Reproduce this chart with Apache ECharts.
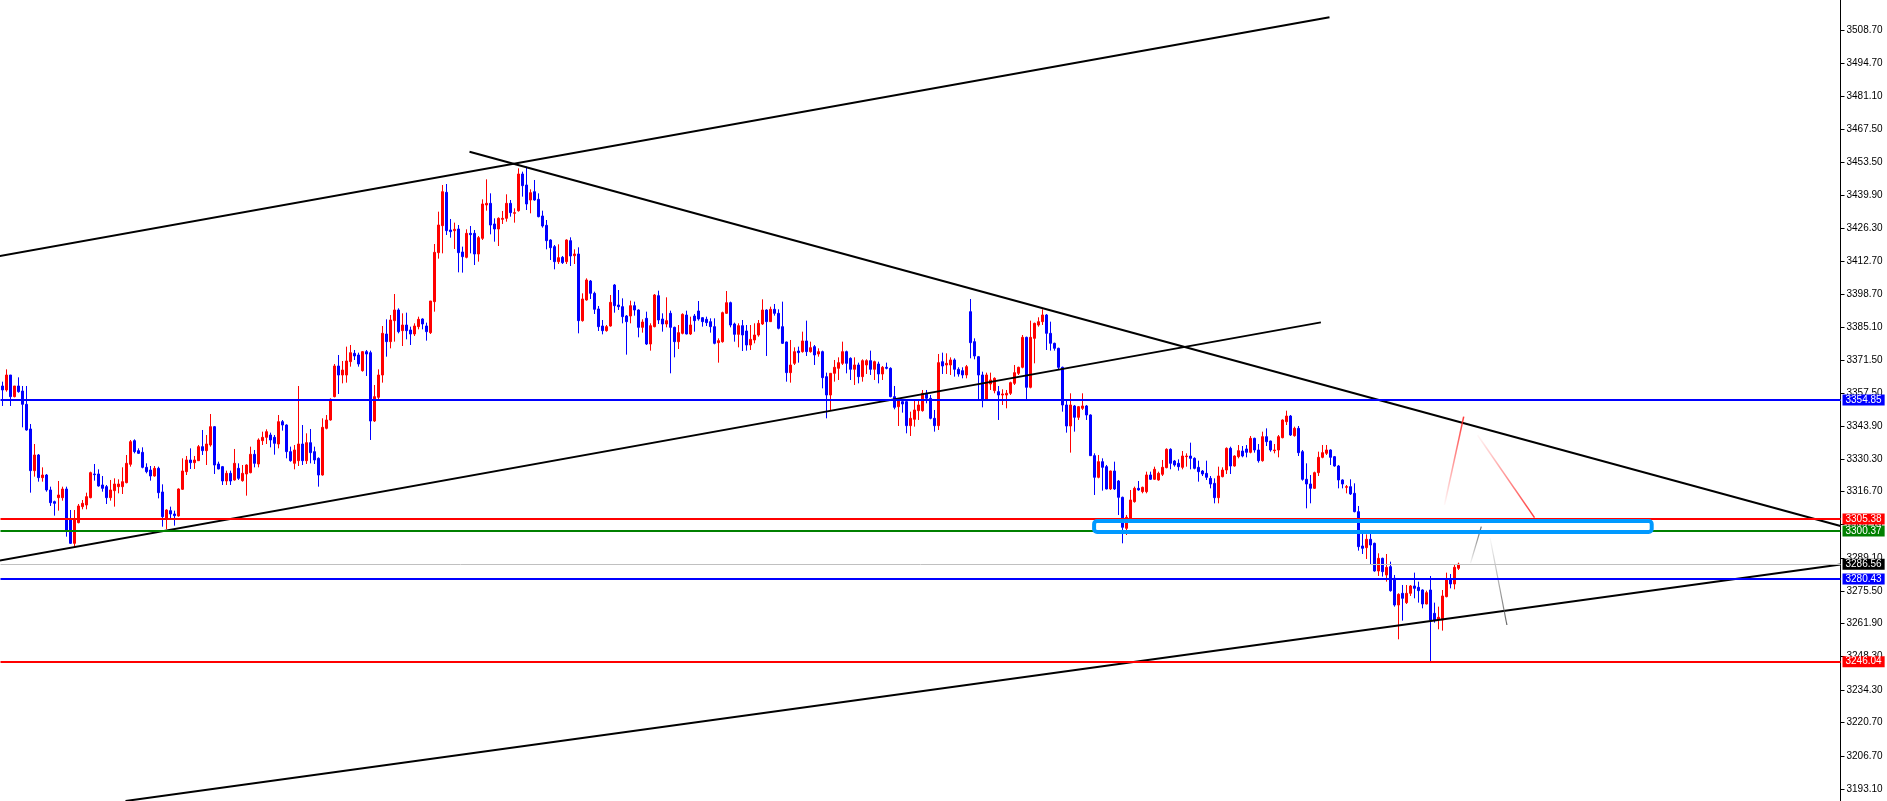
<!DOCTYPE html>
<html><head><meta charset="utf-8">
<script src="https://cdn.jsdelivr.net/npm/echarts@6/dist/echarts.min.js"></script>
<style>html,body{margin:0;padding:0;background:#fff;overflow:hidden}#c{width:1887px;height:801px}</style>
</head><body><div id="c"></div>
<script>
// ---- candle data (index 0 = leftmost bar) ----
const opens = [
3360.67,3359.01,3365.24,3356.24,3360.67,3358.59,3353.05,3342.79,3325.47,3331.98,
3322.56,3323.66,3317.43,3312.58,3314.24,3314.24,3317.84,3304.95,3295.25,3303.85,
3310.50,3311.19,3314.24,3324.08,3324.08,3319.51,3318.81,3314.24,3317.15,3318.81,
3318.81,3320.48,3328.10,3337.94,3333.78,3333.09,3326.85,3325.74,3323.25,3326.44,
3316.60,3305.23,3308.83,3307.45,3306.62,3317.71,3325.05,3329.90,3328.79,3329.62,
3335.45,3333.78,3336.14,3343.76,3328.24,3327.13,3321.17,3324.36,3321.59,3326.44,
3321.31,3324.08,3324.64,3332.26,3328.24,3337.94,3339.33,3340.30,3339.33,3336.55,
3345.84,3344.45,3333.37,3328.52,3329.62,3336.55,3329.62,3337.11,3333.37,3330.59,
3323.66,3343.07,3346.53,3356.24,3368.99,3365.24,3365.24,3370.79,3374.25,3373.56,
3367.05,3374.95,3374.53,3346.12,3355.96,3365.24,3382.29,3379.11,3387.84,3392.27,
3383.68,3386.03,3383.96,3382.29,3385.34,3388.53,3385.62,3382.85,3395.74,3416.11,
3427.34,3441.20,3425.54,3425.26,3425.95,3416.39,3414.17,3424.15,3424.15,3415.56,
3422.07,3435.93,3436.62,3428.03,3425.95,3429.97,3430.39,3436.62,3432.47,3433.57,
3448.82,3444.25,3438.01,3441.47,3438.29,3431.36,3427.48,3421.38,3418.61,3412.37,
3414.17,3412.37,3421.10,3414.86,3415.56,3387.84,3396.43,3404.33,3399.20,3392.69,
3385.62,3383.68,3385.62,3402.67,3394.35,3393.66,3389.78,3389.78,3394.07,3392.27,
3385.06,3388.81,3378.13,3385.34,3398.23,3388.53,3386.45,3390.89,3385.06,3379.10,
3382.57,3390.19,3382.29,3389.78,3391.86,3389.08,3388.39,3387.42,3385.34,3378.69,
3379.10,3390.89,3395.32,3386.45,3382.15,3385.76,3383.54,3377.72,3379.80,3381.88,
3386.45,3392.27,3387.42,3392.55,3390.89,3385.34,3378.97,3366.22,3370.10,3375.22,
3374.95,3379.39,3374.95,3377.03,3373.98,3374.95,3364.56,3356.93,3365.94,3368.02,
3370.10,3374.95,3372.18,3367.61,3369.41,3364.56,3369.41,3371.21,3367.61,3369.82,
3365.66,3368.44,3368.02,3356.24,3352.08,3354.16,3354.16,3344.18,3346.82,3350.42,
3350.42,3357.63,3355.55,3347.23,3344.18,3370.79,3369.41,3369.41,3371.49,3367.61,
3367.05,3365.25,3391.58,3379.11,3372.87,3365.25,3355.13,3361.51,3358.73,3358.32,
3356.93,3356.93,3357.63,3361.78,3365.94,3368.44,3380.91,3360.12,3380.49,3386.04,
3387.42,3390.20,3382.57,3378.42,3376.34,3368.44,3352.77,3344.04,3352.36,3347.65,
3351.39,3352.36,3348.62,3331.71,3322.70,3329.21,3327.13,3317.85,3325.33,3321.17,
3314.38,3301.49,3305.65,3312.58,3318.12,3316.74,3316.74,3323.67,3321.87,3321.59,
3323.95,3326.72,3334.34,3329.49,3328.52,3326.85,3331.28,3331.56,3330.59,3326.85,
3325.32,3324.35,3322.27,3320.20,3314.24,3322.97,3325.74,3334.75,3327.40,3331.28,
3333.64,3334.47,3333.09,3338.91,3334.06,3329.62,3339.60,3337.80,3333.78,3334.06,
3339.18,3345.84,3348.19,3340.02,3343.06,3333.36,3321.87,3319.93,3318.12,3324.64,
3331.01,3332.68,3334.06,3331.29,3327.41,3321.59,3318.54,3318.82,3316.05,3308.42,
3294.15,3293.45,3296.92,3295.26,3283.75,3289.02,3282.09,3285.55,3280.70,3269.61,
3274.47,3270.59,3274.47,3277.52,3276.96,3275.85,3270.03,3275.85,3266.15,3263.66,
3263.38,3273.08,3280.29,3278.35,3284.86];
const closes = [
3359.01,3365.24,3356.24,3360.67,3358.31,3353.05,3342.38,3325.47,3331.98,3322.56,
3323.66,3317.43,3312.16,3311.88,3315.35,3317.84,3300.80,3295.25,3304.95,3310.78,
3311.88,3314.66,3324.64,3323.80,3319.09,3318.12,3314.24,3317.43,3319.92,3319.92,
3320.89,3328.52,3337.52,3333.37,3332.67,3326.85,3325.05,3323.25,3326.44,3316.32,
3306.34,3309.11,3307.45,3306.76,3317.84,3325.33,3329.90,3328.79,3329.90,3335.45,
3333.78,3336.55,3343.76,3327.82,3326.16,3321.17,3324.36,3321.17,3328.52,3322.28,
3324.36,3327.82,3332.26,3328.52,3338.22,3339.33,3341.68,3338.22,3336.83,3345.84,
3344.45,3333.37,3329.62,3334.06,3336.55,3329.62,3337.11,3332.95,3329.90,3323.66,
3343.48,3346.53,3355.13,3368.99,3365.24,3367.32,3371.07,3374.53,3373.15,3369.82,
3374.95,3373.98,3346.12,3356.24,3365.24,3382.57,3379.11,3388.11,3392.27,3383.26,
3386.03,3383.68,3382.29,3385.62,3388.39,3386.45,3383.26,3396.01,3416.25,3427.61,
3441.47,3425.26,3424.84,3425.81,3416.11,3414.45,3424.15,3423.60,3415.56,3422.35,
3436.35,3436.62,3427.61,3425.95,3430.39,3430.39,3436.62,3432.74,3432.74,3448.82,
3443.97,3436.35,3441.06,3438.01,3431.08,3427.20,3421.10,3418.19,3412.37,3414.03,
3411.95,3421.38,3414.73,3415.56,3387.84,3396.85,3404.75,3399.20,3392.55,3385.34,
3383.68,3385.34,3395.46,3394.07,3393.66,3389.50,3387.42,3394.07,3392.27,3385.06,
3387.28,3378.13,3385.76,3398.51,3388.11,3386.45,3387.84,3385.06,3379.10,3382.85,
3390.47,3382.29,3386.03,3387.84,3388.53,3387.42,3387.01,3385.34,3378.41,3379.52,
3391.16,3395.32,3386.03,3382.15,3385.76,3381.88,3377.72,3380.08,3381.88,3386.73,
3392.27,3387.42,3392.55,3390.89,3384.65,3378.41,3366.22,3369.40,3374.95,3374.53,
3379.39,3374.95,3376.61,3373.56,3374.95,3364.14,3356.93,3365.94,3368.44,3370.38,
3374.95,3370.10,3367.61,3369.41,3364.56,3371.21,3371.21,3367.61,3370.79,3365.66,
3368.44,3368.02,3356.24,3351.80,3354.58,3353.19,3344.18,3347.23,3350.70,3352.77,
3357.63,3355.55,3347.23,3344.18,3370.38,3368.99,3370.10,3371.49,3367.61,3365.66,
3365.25,3368.71,3378.69,3373.15,3365.25,3355.13,3365.25,3363.17,3363.86,3356.93,
3357.35,3357.63,3362.06,3366.22,3368.44,3380.91,3360.12,3380.91,3386.73,3387.42,
3390.20,3382.57,3378.42,3376.34,3368.44,3352.77,3344.04,3352.77,3347.65,3352.08,
3352.36,3348.62,3331.71,3322.70,3329.21,3326.86,3317.85,3325.33,3317.85,3314.38,
3301.91,3306.07,3313.27,3318.12,3317.43,3318.54,3323.67,3321.87,3326.03,3324.36,
3326.86,3334.34,3328.52,3327.83,3327.13,3331.56,3331.56,3330.59,3326.43,3325.05,
3324.08,3322.69,3319.92,3314.24,3323.25,3325.74,3334.75,3327.40,3331.56,3333.78,
3331.56,3333.09,3338.91,3334.06,3329.62,3339.60,3337.52,3334.06,3334.06,3339.60,
3346.53,3348.19,3340.29,3343.06,3332.95,3321.86,3319.93,3318.12,3324.64,3331.01,
3332.96,3334.06,3331.01,3327.41,3321.59,3319.93,3318.82,3315.77,3308.42,3293.87,
3293.18,3296.92,3294.56,3283.75,3289.02,3283.47,3285.28,3275.57,3269.61,3274.05,
3272.39,3274.47,3277.52,3276.54,3275.57,3270.03,3274.74,3263.38,3263.38,3264.49,
3273.36,3280.29,3278.35,3285.28,3286.56];
const lows = [
3352.36,3358.31,3352.36,3355.96,3357.90,3343.48,3342.10,3316.32,3322.97,3320.89,
3320.89,3316.73,3310.78,3306.76,3308.83,3312.99,3298.02,3294.97,3293.87,3303.57,
3309.39,3309.39,3313.96,3321.31,3318.81,3316.73,3311.61,3312.99,3310.50,3316.04,
3315.76,3320.20,3327.13,3332.67,3332.40,3326.44,3324.36,3321.31,3322.97,3313.96,
3302.18,3301.21,3304.95,3302.60,3306.34,3317.43,3323.66,3326.16,3326.16,3329.49,
3331.98,3327.82,3335.45,3324.08,3326.02,3319.51,3319.51,3319.51,3321.31,3321.59,
3320.89,3315.07,3324.36,3326.85,3326.85,3336.14,3336.55,3335.17,3332.12,3334.75,
3342.10,3330.59,3329.21,3326.02,3327.41,3327.82,3328.24,3328.52,3328.24,3318.81,
3323.39,3342.65,3346.26,3355.96,3357.34,3361.78,3362.06,3368.71,3371.48,3368.71,
3366.63,3364.83,3338.22,3345.70,3354.85,3362.06,3372.87,3376.33,3379.11,3382.57,
3377.30,3380.08,3377.72,3381.46,3384.23,3384.23,3379.52,3382.29,3391.58,3413.62,
3415.83,3423.46,3422.35,3417.64,3407.93,3407.80,3413.75,3415.83,3410.98,3412.37,
3421.38,3433.57,3423.73,3420.68,3418.88,3428.03,3429.00,3431.08,3428.59,3433.16,
3439.40,3433.85,3432.47,3437.73,3430.80,3426.51,3417.50,3413.06,3409.18,3411.40,
3411.40,3411.40,3410.57,3411.40,3382.57,3387.42,3396.15,3396.85,3390.61,3383.54,
3382.15,3383.26,3385.34,3391.16,3392.27,3386.73,3373.70,3386.73,3389.92,3380.91,
3382.85,3377.72,3375.36,3385.06,3386.45,3383.26,3385.06,3365.94,3372.59,3376.06,
3382.15,3382.15,3381.88,3383.26,3387.84,3385.34,3385.62,3382.85,3378.00,3370.37,
3378.69,3390.61,3385.06,3379.10,3376.75,3375.22,3375.36,3375.64,3378.41,3381.18,
3386.03,3373.15,3387.28,3389.92,3384.23,3378.13,3362.47,3362.06,3369.40,3370.37,
3374.54,3373.15,3374.54,3369.41,3372.87,3359.70,3347.23,3350.70,3362.48,3363.17,
3369.41,3365.94,3363.17,3361.09,3361.78,3362.48,3365.66,3365.25,3363.17,3361.78,
3363.17,3367.61,3355.96,3350.97,3344.04,3349.59,3340.99,3339.89,3343.77,3346.54,
3350.00,3353.47,3346.82,3341.69,3342.38,3365.66,3365.66,3365.25,3364.56,3364.56,
3363.86,3363.86,3372.18,3371.76,3355.13,3351.80,3354.58,3359.01,3357.63,3346.54,
3352.77,3351.39,3356.93,3361.09,3365.25,3368.02,3354.85,3359.70,3370.10,3385.35,
3386.04,3375.64,3375.37,3375.37,3367.61,3350.00,3341.27,3332.96,3341.69,3346.54,
3350.70,3346.54,3331.57,3315.35,3322.28,3317.15,3317.71,3317.43,3317.43,3307.04,
3295.26,3298.72,3305.24,3312.17,3317.15,3316.05,3316.05,3321.59,3321.59,3321.31,
3323.25,3326.44,3326.03,3327.13,3325.47,3326.02,3327.13,3326.02,3326.02,3320.89,
3323.25,3321.58,3318.12,3311.88,3311.88,3322.69,3324.08,3324.08,3327.13,3330.59,
3331.01,3331.01,3332.67,3332.95,3328.79,3329.20,3335.72,3333.36,3332.67,3331.01,
3338.91,3344.45,3339.88,3339.60,3331.56,3321.30,3309.81,3311.89,3317.85,3323.25,
3330.60,3331.98,3327.83,3327.13,3318.12,3318.12,3316.05,3315.35,3308.15,3292.21,
3290.82,3288.74,3286.25,3283.47,3281.67,3281.40,3279.32,3275.16,3268.92,3255.34,
3263.10,3270.03,3273.36,3272.39,3270.59,3268.23,3269.89,3246.05,3262.27,3259.50,
3258.94,3272.80,3276.54,3276.13,3284.17];
const highs = [
3362.47,3367.60,3365.24,3360.67,3364.27,3360.67,3360.67,3344.87,3336.55,3332.40,
3326.85,3324.08,3318.81,3312.99,3321.17,3318.81,3318.81,3309.11,3309.11,3311.61,
3313.27,3316.32,3325.05,3328.24,3326.02,3323.25,3319.51,3321.59,3322.28,3321.86,
3326.85,3331.98,3338.22,3338.50,3334.75,3335.17,3328.52,3327.41,3327.41,3327.13,
3319.78,3309.39,3310.50,3308.83,3318.12,3330.59,3331.57,3334.75,3331.57,3336.14,
3342.38,3340.30,3349.03,3344.04,3329.21,3327.41,3325.47,3325.47,3334.48,3328.52,
3327.82,3328.10,3335.45,3334.06,3338.91,3341.68,3342.65,3341.27,3340.30,3348.61,
3346.53,3344.73,3335.45,3336.14,3360.67,3344.45,3340.99,3342.79,3335.45,3331.01,
3347.23,3348.61,3355.54,3369.82,3373.56,3371.07,3377.03,3377.72,3375.64,3374.53,
3375.22,3375.64,3375.36,3361.09,3367.60,3385.62,3388.39,3390.19,3398.92,3392.97,
3390.89,3391.16,3385.34,3386.73,3389.50,3388.81,3387.01,3396.01,3419.71,3433.16,
3444.25,3444.66,3430.11,3428.59,3427.61,3418.61,3425.81,3427.20,3425.54,3423.04,
3438.29,3446.60,3440.78,3430.39,3430.80,3433.44,3440.37,3438.01,3434.54,3451.18,
3449.79,3451.87,3442.45,3446.33,3440.78,3433.57,3429.69,3421.66,3419.30,3419.58,
3414.73,3421.66,3422.49,3417.50,3418.33,3399.20,3405.44,3404.75,3399.89,3393.94,
3388.11,3386.03,3398.51,3403.08,3400.59,3397.12,3390.19,3396.15,3395.74,3392.55,
3388.39,3391.58,3386.73,3398.92,3400.31,3390.89,3397.54,3391.99,3385.34,3386.03,
3390.89,3391.99,3389.50,3390.61,3396.01,3389.22,3389.50,3388.81,3388.81,3380.49,
3391.58,3400.17,3395.74,3387.01,3386.73,3388.11,3386.03,3386.03,3386.73,3388.11,
3396.71,3392.55,3393.66,3394.77,3392.55,3395.74,3379.10,3379.80,3376.75,3377.03,
3383.27,3387.84,3379.11,3377.72,3376.34,3375.37,3366.22,3365.94,3371.49,3372.59,
3379.11,3375.37,3372.59,3372.59,3370.38,3371.76,3371.76,3375.37,3371.21,3370.79,
3368.99,3370.38,3368.44,3360.68,3355.13,3354.58,3354.85,3350.00,3354.85,3354.85,
3359.01,3359.01,3356.93,3350.70,3373.98,3374.54,3374.26,3372.59,3372.18,3368.44,
3368.44,3369.41,3396.85,3380.49,3373.15,3366.63,3366.22,3366.22,3364.28,3360.68,
3359.29,3359.01,3362.48,3369.41,3368.71,3381.88,3381.19,3387.84,3387.01,3389.23,
3392.55,3390.61,3387.42,3378.69,3376.61,3368.71,3354.58,3357.63,3352.77,3352.36,
3357.63,3352.77,3348.89,3332.68,3331.98,3330.60,3327.83,3325.47,3329.21,3321.59,
3314.66,3307.04,3317.43,3318.82,3321.17,3318.82,3325.05,3325.05,3327.13,3325.05,
3329.91,3334.76,3334.76,3329.91,3330.18,3333.64,3332.67,3337.11,3331.01,3329.62,
3325.74,3329.62,3323.25,3322.27,3327.13,3326.85,3335.16,3335.44,3331.84,3336.13,
3335.72,3336.13,3339.88,3339.18,3336.55,3341.68,3343.06,3337.94,3336.55,3340.29,
3346.81,3350.41,3348.61,3343.76,3344.04,3334.06,3328.52,3323.67,3325.05,3333.37,
3336.14,3336.14,3334.34,3331.57,3327.83,3321.87,3319.51,3321.87,3320.20,3310.78,
3299.14,3299.00,3299.14,3295.53,3291.10,3289.30,3290.82,3287.63,3282.09,3274.47,
3277.93,3277.93,3277.93,3283.06,3279.32,3276.13,3275.57,3281.67,3270.59,3268.92,
3275.85,3283.06,3282.50,3286.25,3287.22];

// ---- axis ----
const slotCount = 460;            // bar slots across the plot (incl. empty future space)
const priceMin = 3188.11, priceMax = 3521.17;
const yTicks = [3193.10,3206.70,3220.70,3234.30,3248.30,3261.90,3275.50,3289.10,3303.10,3316.70,
  3330.30,3343.90,3357.50,3371.50,3385.10,3398.70,3412.70,3426.30,3439.90,3453.50,3467.50,
  3481.10,3494.70,3508.70];

// ---- horizontal levels ----
const levelPrices = [3354.85, 3305.38, 3300.37, 3286.56, 3280.43, 3246.04];

// ---- drawn objects, in [bar index, price] ----
const trendLines = [
  [[-0.75, 3414.68], [331.75, 3513.98]],
  [[-0.75, 3288.03], [329.6, 3387.12]],
  [[116.75, 3458.09], [459.5, 3302.46]],
  [[30.75, 3188.11], [459.5, 3286.45]]
];
const pathRedUp = [[360.5, 3311.19], [365.3, 3347.91]];
const pathRedDown = [[368.75, 3340.30], [383.0, 3305.91]];
const pathGrayUp = [[367.0, 3286.95], [369.7, 3302.17]];
const pathGrayDown = [[371.9, 3297.47], [376.1, 3261.29]];
const zoneBox = [[272.9, 412.3, 3304.54, 3299.96]];

// ---- styles ----
const levelStyle = [
  {line:'#0000ff', w:2, tag:'#0000ff'},
  {line:'#ff0000', w:2, tag:'#ff0000'},
  {line:'#008000', w:2, tag:'#008000'},
  {line:'#c0c0c0', w:1, tag:'#000000'},
  {line:'#0000ff', w:2, tag:'#0000ff'},
  {line:'#ff0000', w:2, tag:'#ff0000'}
];
const FONT = 'Liberation Sans, Arial, sans-serif';

const candleData = opens.map((o, i) => [o, closes[i], lows[i], highs[i]]);
const categories = Array.from({length: slotCount}, (_, i) => String(i));

function grad(rgb, fadeAtTop) {
  const solid = 'rgba(' + rgb + ',0.95)', clear = 'rgba(' + rgb + ',0)';
  return {type:'linear', x:0, y:0, x2:0, y2:1, colorStops: fadeAtTop
    ? [{offset:0, color:clear}, {offset:0.35, color:'rgba(' + rgb + ',0.35)'}, {offset:1, color:solid}]
    : [{offset:0, color:solid}, {offset:0.65, color:'rgba(' + rgb + ',0.35)'}, {offset:1, color:clear}]};
}
function seg(data, color, width) {
  return {type:'line', xAxisIndex:1, yAxisIndex:0, data: data, symbol:'none', silent:true,
    animation:false, clip:true, z:4, lineStyle:{color: color, width: width}};
}

const series = [
  {
    type:'candlestick', xAxisIndex:0, yAxisIndex:0, data: candleData, barWidth:2,
    animation:false, z:2,
    itemStyle:{color:'#ff0000', color0:'#0000ff', borderColor:'#ff0000', borderColor0:'#0000ff', borderWidth:1},
    markLine:{
      silent:true, symbol:['none','none'], animation:false, z:5,
      data: levelPrices.map((p, i) => ({
        yAxis: p,
        lineStyle:{color: levelStyle[i].line, width: levelStyle[i].w, type:'solid'},
        label:{show:true, position:'end', distance:2, formatter: () => p.toFixed(2),
          color:'#ffffff', backgroundColor: levelStyle[i].tag, fontFamily: FONT, fontSize:10,
          lineHeight:10, padding:[1,3,0,3], align:'left', verticalAlign:'middle'}
      }))
    }
  },
  {
    type:'custom', xAxisIndex:1, yAxisIndex:0, data: zoneBox, silent:true, animation:false, z:6,
    renderItem: (params, api) => {
      const a = api.coord([api.value(0), api.value(2)]);
      const b = api.coord([api.value(1), api.value(3)]);
      return {type:'rect', shape:{x:a[0], y:a[1], width:b[0]-a[0], height:b[1]-a[1], r:3},
        style:{fill:'none', stroke:'#0099ff', lineWidth:4}};
    }
  }
];
trendLines.forEach(t => series.push(seg(t, '#000000', 2)));
series.push(seg(pathRedUp, grad('255,40,40', false), 1.5));
series.push(seg(pathRedDown, grad('255,40,40', true), 1.5));
series.push(seg(pathGrayUp, grad('90,90,90', false), 1.2));
series.push(seg(pathGrayDown, grad('90,90,90', true), 1.2));

const chart = echarts.init(document.getElementById('c'), null, {renderer:'canvas'});
chart.setOption({
  animation:false,
  backgroundColor:'#ffffff',
  grid:{left:0.5, right:46.5, top:0, bottom:0, containLabel:false},
  xAxis:[
    {type:'category', data: categories, show:false, boundaryGap:true},
    {type:'value', min:-0.5, max: slotCount - 0.5, show:false}
  ],
  yAxis:[{
    type:'value', position:'right', min: priceMin, max: priceMax,
    splitLine:{show:false},
    axisLine:{show:true, onZero:false, lineStyle:{color:'#000000', width:1}},
    axisTick:{show:true, length:4, customValues: yTicks, lineStyle:{color:'#000000'}},
    axisLabel:{show:true, customValues: yTicks, margin:6, color:'#000000', fontFamily: FONT,
      fontSize:10, formatter: v => Number(v).toFixed(2)}
  }],
  series: series
});
</script>
</body></html>
